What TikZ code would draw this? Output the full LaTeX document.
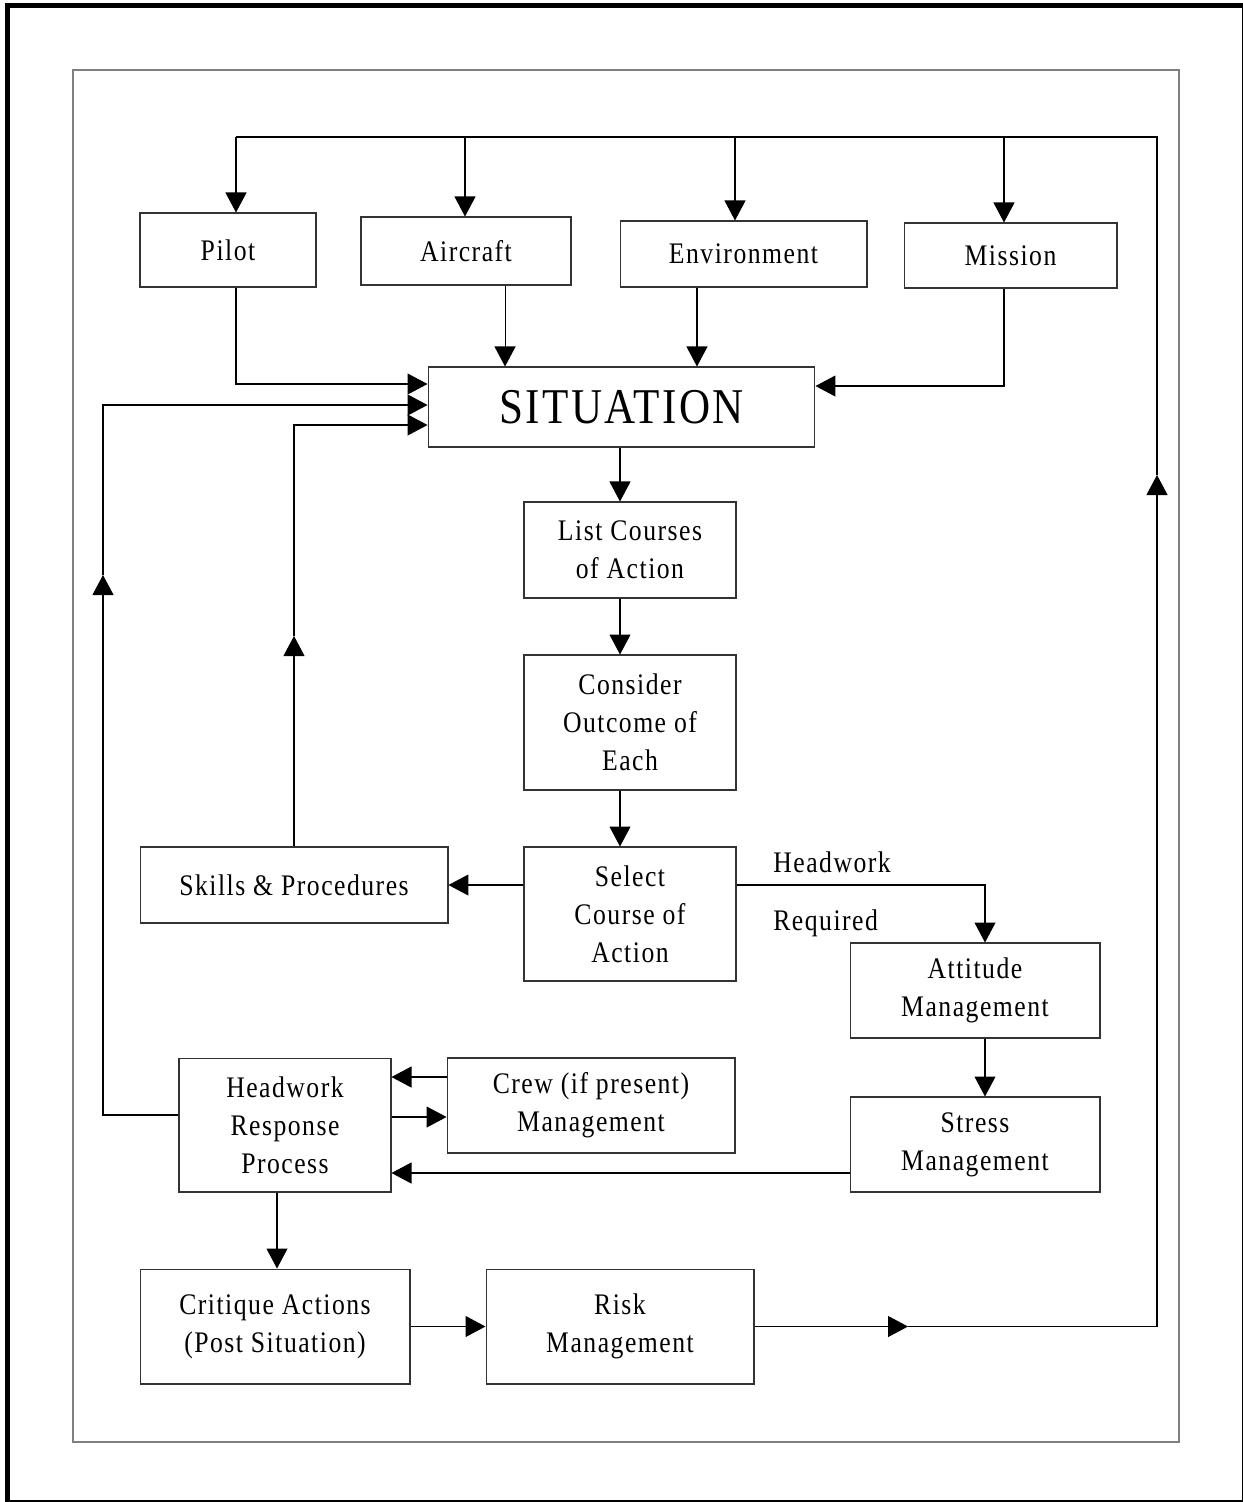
\documentclass[tikz,border=0pt]{standalone}
\usepackage{fontspec}
\setmainfont{Liberation Serif}[FakeStretch=0.86,LetterSpace=5]
\usetikzlibrary{arrows.meta}

\begin{document}
\begin{tikzpicture}[x=0.02cm,y=-0.02cm]
        \useasboundingbox (0,0) rectangle (1243,1502);
        % frames
        \draw[line width=0.1cm] (7.5,5.5) rectangle (1244.5,1502.5);
        \draw[gray, line width=0.03cm] (73,70) rectangle (1179,1442);

        \begin{scope}[every node/.style={draw=black!80, line width=0.6pt, align=center, inner sep=2pt, font=\fontsize{17}{21.5}\selectfont}]
                \node [minimum width=3.52cm, minimum height=1.48cm] (Pilot) at (228,250) {Pilot};
                \node [minimum width=4.2cm, minimum height=1.36cm] (Air) at (466,251) {Aircraft};
                \node [minimum width=4.94cm, minimum height=1.32cm] (Env) at (743.5,254) {Environment};
                \node [minimum width=4.26cm, minimum height=1.3cm] (Mis) at (1010.5,255.5) {Mission};
                \node [minimum width=7.74cm, minimum height=1.6cm, font=\fontsize{28.5}{30}\selectfont] (Sit) at (621.5,407) {SITUATION};
                \node [minimum width=4.24cm, minimum height=1.92cm] (List) at (630,550) {List Courses\\of Action};
                \node [minimum width=4.24cm, minimum height=2.7cm] (Cons) at (630,722.5) {Consider\\Outcome of\\Each};
                \node [minimum width=4.24cm, minimum height=2.68cm] (Sel) at (630,914) {Select\\Course of\\Action};
                \node [minimum width=6.16cm, minimum height=1.52cm] (Skill) at (294,885) {Skills \& Procedures};
                \node [minimum width=5cm, minimum height=1.9cm] (Att) at (975,990.5) {Attitude\\Management};
                \node [minimum width=5cm, minimum height=1.9cm] (Str) at (975,1144.5) {Stress\\Management};
                \node [minimum width=4.24cm, minimum height=2.68cm] (Hrp) at (285,1125) {Headwork\\Response\\Process};
                \node [minimum width=5.76cm, minimum height=1.9cm] (Crew) at (591,1105.5) {Crew (if present)\\Management};
                \node [minimum width=5.4cm, minimum height=2.3cm] (Crit) at (275,1326.5) {Critique Actions\\(Post Situation)};
                \node [minimum width=5.36cm, minimum height=2.3cm] (Risk) at (620,1326.5) {Risk\\Management};
        \end{scope}

        \begin{scope}[every node/.style={inner sep=0pt, font=\fontsize{17}{21.5}\selectfont}]
                \node [anchor=base west] (hwLab) at (773,872) {Headwork};
                \node [anchor=base west] (rqLab) at (773,930) {Required};
        \end{scope}

        % bends and entry points
        \coordinate (busL) at (236,137);
        \coordinate (busA) at (465,137);
        \coordinate (busE) at (735,137);
        \coordinate (busM) at (1004,137);
        \coordinate (busR) at (1157,137);
        \coordinate (upR) at (1157,475);
        \coordinate (midB) at (908,1326.5);
        \coordinate (upL) at (103,575);
        \coordinate (upS) at (294,636);
        \coordinate (inP) at ([yshift=.46cm]Sit.west);
        \coordinate (inL) at ([yshift=.04cm]Sit.west);
        \coordinate (inS) at ([yshift=-.36cm]Sit.west);
        \coordinate (inM) at ([yshift=.42cm]Sit.east);
        \coordinate (inA) at ([xshift=-2.33cm]Sit.north);
        \coordinate (inE) at ([xshift=1.51cm]Sit.north);
        \coordinate (col) at ([xshift=-.03cm]Sit.south);
        \coordinate (aDown) at ([xshift=.2cm]Att.south);
        \coordinate (hLeft) at ([yshift=.2cm]Hrp.west);
        \coordinate (hDown) at ([xshift=-.16cm]Hrp.south);
        \coordinate (crewIn) at ([yshift=.57cm]Crew.west);
        \coordinate (crewOut) at ([yshift=.16cm]Hrp.east);
        \coordinate (strOut) at ([yshift=-.57cm]Str.west);

        \begin{scope}[every path/.style={line width=0.6pt, ->, >={Triangle[length=0.4cm,width=0.42cm]}}]
                \draw [-] (upR) -- (busR) -- (busL);
                \draw (busL) -- (busL |- Pilot.north);
                \draw (busA) -- (busA |- Air.north);
                \draw (busE) -- (busE |- Env.north);
                \draw (busM) -- (busM |- Mis.north);
                \draw (Pilot.south -| busL) |- (inP);
                \draw (Air.south -| inA) -- (inA);
                \draw (Env.south -| inE) -- (inE);
                \draw (Mis.south -| busM) |- (inM);
                \draw (col) -- (col |- List.north);
                \draw (List.south -| col) -- (col |- Cons.north);
                \draw (Cons.south -| col) -- (col |- Sel.north);
                \draw (Sel.west |- Skill.east) -- (Skill.east);
                \draw (Sel.east |- Skill.east) -| (aDown |- Att.north);
                \draw (aDown) -- (aDown |- Str.north);
                \draw (Skill.north) -- (upS);
                \draw (upS) |- (inS);
                \draw (hLeft) -| (upL);
                \draw (upL) |- (inL);
                \draw (crewIn) -- (crewIn -| Hrp.east);
                \draw (crewOut) -- (crewOut -| Crew.west);
                \draw (strOut) -- (strOut -| Hrp.east);
                \draw (hDown) -- (hDown |- Crit.north);
                \draw (Crit.east) -- (Risk.west);
                \draw (Risk.east) -- (midB);
                \draw (midB) -| (upR);
        \end{scope}
\end{tikzpicture}
\end{document}
